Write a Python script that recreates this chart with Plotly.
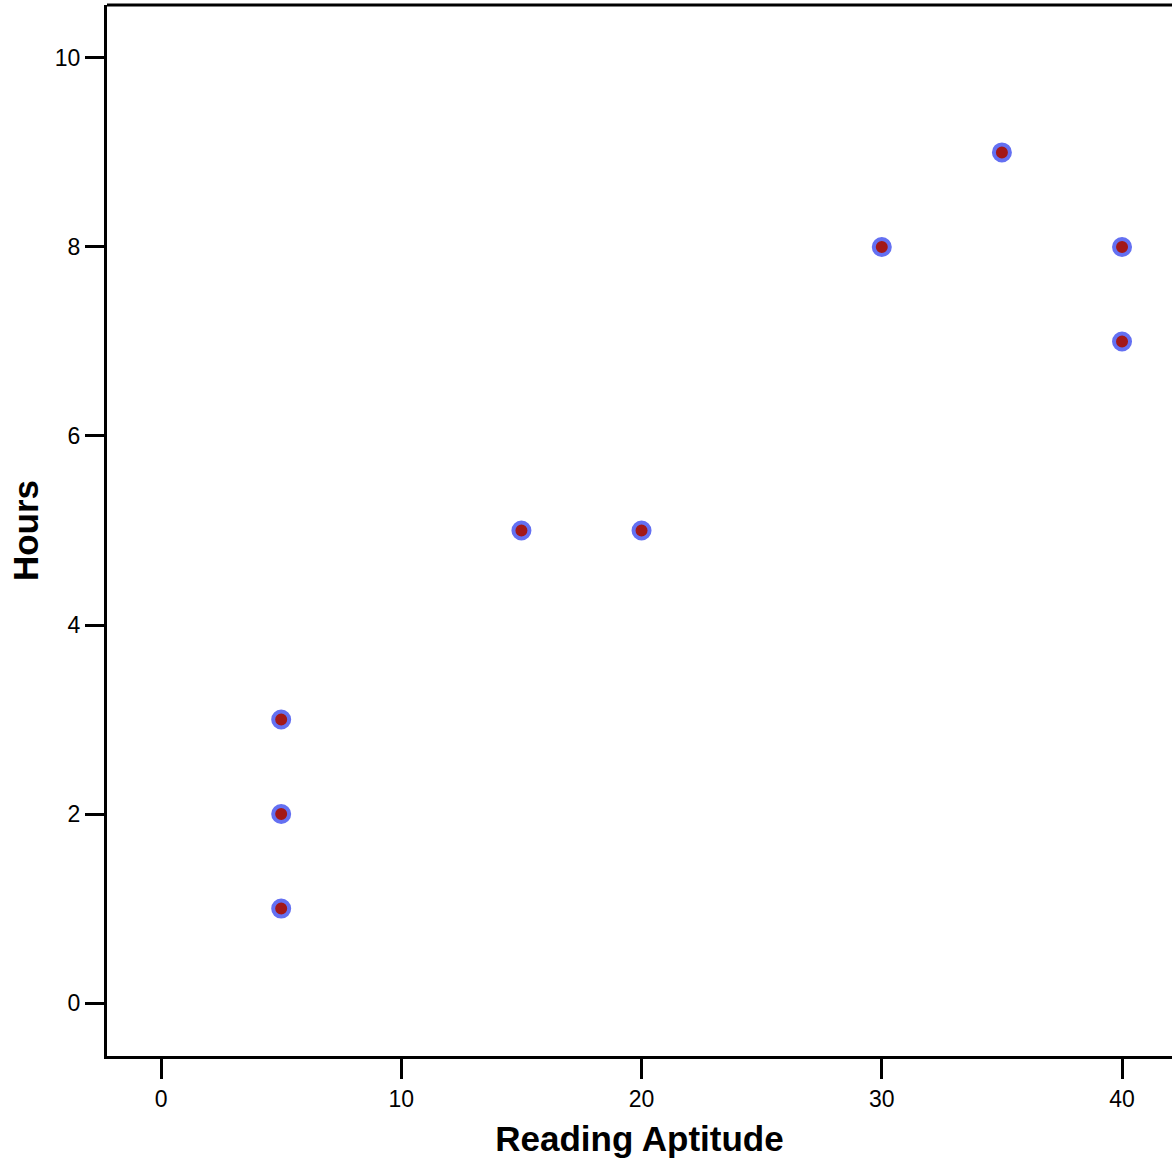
import plotly.graph_objects as go

reading_aptitude = [5, 5, 5, 15, 20, 30, 35, 40, 40]
hours = [1, 2, 3, 5, 5, 8, 9, 8, 7]
x_ticks = [0, 10, 20, 30, 40]
y_ticks = [0, 2, 4, 6, 8, 10]

fig = go.Figure()
fig.add_trace(go.Scatter(
    x=reading_aptitude, y=hours, mode="markers",
    marker=dict(size=16, color="#a31818", line=dict(color="#6470f2", width=4)),
    hoverinfo="x+y", showlegend=False,
))

axis_font = dict(family="Liberation Sans, Arial, sans-serif", size=23, color="black")
title_font = dict(family="Liberation Sans, Arial, sans-serif", size=35, color="black")

fig.update_layout(
    width=1172, height=1167,
    margin=dict(l=107, r=0, t=5, b=111),
    paper_bgcolor="white", plot_bgcolor="white",
    xaxis=dict(
        range=[-2.25, 42.08], tickvals=x_ticks, ticktext=[str(v) for v in x_ticks],
        showgrid=False, zeroline=False, showline=True, linecolor="black", linewidth=3,
        ticks="outside", ticklen=20, tickwidth=3, tickcolor="black",
        tickfont=axis_font,
        title=dict(text="<b>Reading Aptitude</b>", font=title_font, standoff=16),
    ),
    yaxis=dict(
        range=[-0.56, 10.56], tickvals=y_ticks, ticktext=[str(v) for v in y_ticks],
        showgrid=False, zeroline=False, showline=True, linecolor="black", linewidth=3,
        ticks="outside", ticklen=19, tickwidth=3, tickcolor="black",
        tickfont=axis_font,
        title=dict(text="<b>Hours</b>", font=title_font, standoff=6),
    ),
    shapes=[dict(type="line", xref="paper", yref="paper", x0=0, x1=1, y0=1, y1=1,
                 line=dict(color="black", width=3))],
)

fig.write_html("out.html", config={"displayModeBar": False},
               post_script="document.body.style.margin='0';")
